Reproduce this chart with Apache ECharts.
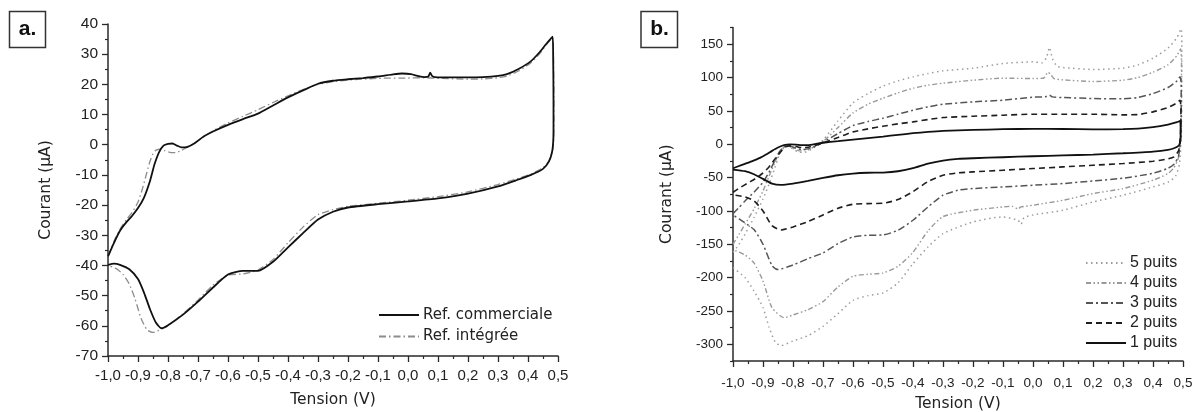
<!DOCTYPE html>
<html>
<head>
<meta charset="utf-8">
<script src="https://cdn.jsdelivr.net/npm/echarts@6/dist/echarts.min.js"></script>
<style>
html,body{margin:0;padding:0;background:#fff;}
#c{width:1195px;height:412px;}
</style>
</head>
<body>
<div id="c"></div>
<script>
// ---------- Panel a : [tension V, courant µA] ----------
const aCommercialFwd = [[-1.0,-37],[-0.98,-32.5],[-0.96,-28.5],[-0.94,-25.8],[-0.92,-23.6],[-0.9,-21],[-0.88,-17.5],[-0.86,-12],[-0.845,-6.5],[-0.83,-2.5],[-0.815,-0.3],[-0.8,0.3],[-0.785,0.4],[-0.77,-0.3],[-0.755,-0.9],[-0.735,-0.7],[-0.71,0.6],[-0.68,2.8],[-0.65,4.4],[-0.6,6.6],[-0.55,8.5],[-0.5,10.3],[-0.45,13],[-0.4,15.7],[-0.35,18],[-0.3,20.2],[-0.25,21.2],[-0.2,21.7],[-0.15,22.1],[-0.1,22.6],[-0.05,23.3],[-0.02,23.6],[0.01,23.4],[0.035,22.7],[0.055,22.4],[0.068,22.6],[0.074,23.9],[0.08,22.8],[0.09,22.4],[0.15,22.3],[0.2,22.3],[0.25,22.4],[0.3,22.8],[0.33,23.4],[0.37,25.2],[0.41,27.7],[0.44,30.8],[0.46,33.3],[0.482,35.8]];
const aCommercialRev = [[0.484,28],[0.485,15],[0.485,5],[0.484,1],[0.48,-2.5],[0.47,-5.5],[0.45,-8],[0.41,-10],[0.36,-11.8],[0.3,-13.8],[0.2,-16.2],[0.1,-17.8],[0.0,-18.8],[-0.1,-19.7],[-0.2,-20.8],[-0.25,-22.2],[-0.3,-24.8],[-0.35,-29.3],[-0.4,-34],[-0.45,-38.8],[-0.5,-41.8],[-0.55,-41.8],[-0.6,-43],[-0.65,-47.3],[-0.7,-52],[-0.75,-56.3],[-0.8,-59.8],[-0.822,-60.8],[-0.84,-59],[-0.86,-54.5],[-0.88,-49],[-0.9,-44.5],[-0.93,-41.2],[-0.96,-39.8],[-0.98,-39.4],[-1.0,-39.8]];
const aIntegreeFwd = [[-1.0,-37],[-0.98,-32],[-0.96,-28],[-0.94,-25],[-0.92,-22.5],[-0.9,-19],[-0.885,-14.5],[-0.87,-9],[-0.86,-5.5],[-0.85,-3],[-0.84,-1.8],[-0.825,-1.5],[-0.81,-2],[-0.79,-2.6],[-0.775,-2.6],[-0.76,-2.1],[-0.74,-1.1],[-0.72,0],[-0.7,1.4],[-0.65,4.6],[-0.6,7.2],[-0.55,9.4],[-0.5,11.6],[-0.45,14],[-0.4,16.2],[-0.35,18.3],[-0.3,20],[-0.25,20.9],[-0.2,21.4],[-0.1,22],[0.0,22.1],[0.05,22.2],[0.1,22],[0.2,21.7],[0.25,21.8],[0.3,22.2],[0.33,22.8],[0.37,24.5],[0.41,27.2],[0.44,30.3],[0.46,33],[0.482,35.4]];
const aIntegreeRev = [[0.485,28],[0.486,15],[0.486,5],[0.485,1],[0.481,-2.5],[0.47,-5.3],[0.45,-7.6],[0.41,-9.7],[0.36,-11.4],[0.3,-13.2],[0.2,-15.6],[0.1,-17.2],[0.0,-18.4],[-0.1,-19.4],[-0.2,-20.4],[-0.25,-21.5],[-0.3,-23.2],[-0.35,-27.3],[-0.4,-32.5],[-0.45,-38],[-0.5,-41.5],[-0.55,-42.8],[-0.6,-43.2],[-0.65,-46.5],[-0.7,-51.5],[-0.75,-56],[-0.8,-60],[-0.82,-61],[-0.85,-62.2],[-0.87,-61.3],[-0.89,-57.5],[-0.91,-51],[-0.93,-46],[-0.95,-43],[-0.97,-41.2],[-1.0,-40]];

// ---------- Panel b : [tension V, courant µA] ----------
const b1Fwd = [[-1.0,-36],[-0.97,-31],[-0.94,-26],[-0.91,-20.5],[-0.89,-15.5],[-0.87,-10],[-0.85,-5],[-0.83,-1.5],[-0.81,-0.3],[-0.79,-0.5],[-0.77,-1.3],[-0.75,-1.3],[-0.72,0.8],[-0.7,2.2],[-0.65,4.5],[-0.6,7],[-0.55,9.3],[-0.5,11.5],[-0.45,14],[-0.4,16.5],[-0.35,18.5],[-0.3,20],[-0.2,21.5],[-0.1,22.5],[0.0,23],[0.1,22.8],[0.2,22.3],[0.3,22.5],[0.35,23.3],[0.4,25.5],[0.45,29.5],[0.48,33],[0.49,35]];
const b1Rev = [[0.492,25],[0.492,10],[0.49,2],[0.485,-2.5],[0.47,-6],[0.45,-8.5],[0.4,-11],[0.3,-13.5],[0.2,-15.5],[0.1,-16.8],[0.0,-18],[-0.1,-19.5],[-0.2,-21],[-0.25,-22],[-0.3,-24.5],[-0.35,-29],[-0.4,-36],[-0.45,-40.5],[-0.5,-42.5],[-0.55,-42.8],[-0.6,-44],[-0.65,-46.5],[-0.7,-50.5],[-0.75,-55],[-0.8,-59],[-0.84,-61],[-0.87,-59],[-0.9,-52],[-0.93,-45],[-0.96,-40.5],[-1.0,-38]];
const b2Fwd = [[-1.0,-72],[-0.98,-66],[-0.95,-58],[-0.92,-50],[-0.9,-43],[-0.88,-34],[-0.86,-22],[-0.84,-11],[-0.825,-4],[-0.81,-2.5],[-0.79,-3.5],[-0.77,-5],[-0.75,-4.5],[-0.72,-1],[-0.7,2],[-0.65,10],[-0.6,18.5],[-0.55,23],[-0.5,27],[-0.45,30.5],[-0.4,33.5],[-0.35,37],[-0.3,40],[-0.2,42],[-0.1,43.5],[0.0,45],[0.1,45],[0.2,45],[0.3,44],[0.35,44.5],[0.4,48.5],[0.45,55],[0.48,62],[0.49,66]];
const b2Rev = [[0.493,55],[0.493,30],[0.49,5],[0.485,-10],[0.47,-19],[0.45,-22],[0.4,-25.5],[0.3,-29],[0.2,-31.5],[0.1,-34],[0.0,-36.5],[-0.1,-39],[-0.2,-41.5],[-0.25,-43],[-0.3,-46.5],[-0.35,-56],[-0.4,-71],[-0.45,-83],[-0.5,-88.5],[-0.55,-89],[-0.6,-90],[-0.65,-96],[-0.7,-106],[-0.75,-116],[-0.8,-124],[-0.84,-128.5],[-0.87,-122],[-0.9,-100],[-0.93,-85],[-0.96,-79],[-1.0,-76]];
const b3Fwd = [[-1.0,-104],[-0.98,-95],[-0.96,-85],[-0.93,-72],[-0.9,-57],[-0.88,-42],[-0.86,-24],[-0.845,-11],[-0.83,-4],[-0.81,-3],[-0.79,-6],[-0.77,-8],[-0.75,-7],[-0.72,-2],[-0.7,3],[-0.65,16],[-0.6,28],[-0.55,34],[-0.5,39],[-0.45,45],[-0.4,51],[-0.35,56],[-0.3,60],[-0.2,63.5],[-0.1,66],[0.0,70.5],[0.04,71],[0.055,73.5],[0.065,71],[0.1,70],[0.2,68.5],[0.3,68],[0.35,70],[0.4,76],[0.45,85],[0.48,95],[0.49,101]];
const b3Rev = [[0.494,90],[0.494,50],[0.492,10],[0.485,-18],[0.47,-30],[0.45,-36],[0.4,-43.5],[0.3,-51],[0.2,-55],[0.1,-59],[0.0,-61.5],[-0.1,-64],[-0.2,-66.5],[-0.25,-69],[-0.3,-76.5],[-0.35,-94],[-0.4,-114],[-0.45,-129],[-0.5,-136],[-0.55,-136.5],[-0.6,-139],[-0.65,-149],[-0.7,-163],[-0.75,-171.5],[-0.8,-181],[-0.85,-188],[-0.87,-182],[-0.9,-150],[-0.93,-128],[-0.96,-118],[-0.98,-112],[-1.0,-106]];
const b4Fwd = [[-1.0,-150],[-0.98,-135],[-0.96,-120],[-0.93,-97],[-0.9,-70],[-0.88,-48],[-0.86,-27],[-0.845,-12],[-0.83,-4],[-0.815,-3],[-0.8,-6],[-0.78,-10],[-0.76,-10],[-0.73,-4],[-0.7,4],[-0.65,25],[-0.6,47],[-0.55,60],[-0.5,69],[-0.45,77],[-0.4,84],[-0.35,88.5],[-0.3,91.5],[-0.2,96],[-0.1,99],[0.0,98.5],[0.035,99],[0.05,108],[0.06,104],[0.07,98.5],[0.1,96.5],[0.2,94],[0.3,96],[0.35,100],[0.4,108],[0.45,119],[0.48,133],[0.492,143]];
const b4Rev = [[0.495,120],[0.495,60],[0.492,10],[0.485,-20],[0.47,-35],[0.45,-44],[0.4,-54],[0.3,-66.5],[0.2,-74],[0.1,-84],[0.0,-91.5],[-0.04,-94],[-0.05,-97],[-0.07,-93],[-0.1,-94],[-0.2,-99],[-0.3,-108.5],[-0.35,-130],[-0.4,-162],[-0.45,-183],[-0.5,-193],[-0.55,-195],[-0.6,-198],[-0.65,-214],[-0.7,-236],[-0.75,-248],[-0.8,-256],[-0.83,-260],[-0.87,-245],[-0.9,-205],[-0.93,-178],[-0.96,-166],[-1.0,-158]];
const b5Fwd = [[-1.0,-162],[-0.98,-150],[-0.96,-135],[-0.93,-110],[-0.9,-82],[-0.88,-60],[-0.86,-35],[-0.845,-15],[-0.83,-5],[-0.815,-3],[-0.8,-7],[-0.78,-12],[-0.76,-12],[-0.73,-5],[-0.7,6],[-0.65,35],[-0.6,62],[-0.55,76],[-0.5,87],[-0.45,95],[-0.4,101],[-0.35,106],[-0.3,110],[-0.2,114],[-0.1,121],[0.0,123.5],[0.03,122],[0.045,130],[0.055,145],[0.065,128],[0.08,117],[0.1,115],[0.2,112],[0.3,114],[0.35,119],[0.4,129],[0.45,144],[0.48,160],[0.494,173]];
const b5Rev = [[0.496,150],[0.496,80],[0.494,10],[0.488,-30],[0.475,-48],[0.45,-57],[0.4,-64],[0.3,-76.5],[0.2,-86.5],[0.1,-99],[0.0,-106],[-0.03,-110],[-0.04,-120],[-0.05,-114],[-0.1,-109],[-0.2,-116.5],[-0.3,-134],[-0.35,-154],[-0.4,-179],[-0.45,-208],[-0.5,-223],[-0.55,-227],[-0.6,-234],[-0.65,-254],[-0.7,-273],[-0.75,-287],[-0.8,-295],[-0.84,-302],[-0.86,-296],[-0.88,-274],[-0.9,-245],[-0.93,-220],[-0.96,-200],[-1.0,-185]];

// ---------- names & ticks ----------
const legendA = ['Ref. commerciale', 'Ref. intégrée'];
const legendB = ['5 puits', '4 puits', '3 puits', '2 puits', '1 puits'];
const yMajorB = [-300, -250, -200, -150, -100, -50, 0, 50, 100, 150];
const yMinorB = [-325, -275, -225, -175, -125, -75, -25, 25, 75, 125, 175];
const xTitle = 'Tension (V)';
const yTitle = 'Courant (µA)';

const loop = (f, r) => f.concat(r);
const comma = v => { let r = Math.round(v * 10) / 10; if (Math.abs(r) < 1e-9) r = 0; return r.toFixed(1).replace('.', ','); };

const axisCol = '#2a2a2a';
const tickFont = { fontFamily: '"Liberation Sans", Arial, sans-serif', color: '#222' };
const titleFont = { fontFamily: '"DejaVu Sans", Verdana, sans-serif', fontSize: 15.5, color: '#222' };

function xAxisCfg(grid, fs, margin, gap) {
  return {
    type: 'value', gridIndex: grid, min: -1, max: 0.5, interval: 0.1,
    name: xTitle, nameLocation: 'middle', nameGap: gap, nameTextStyle: titleFont,
    axisLine: { show: true, onZero: false, lineStyle: { color: axisCol, width: 1.5 } },
    axisTick: { show: true, inside: false, length: 6, lineStyle: { color: axisCol, width: 1.3 } },
    minorTick: { show: true, splitNumber: 2, length: 3, lineStyle: { color: axisCol, width: 1.2 } },
    axisLabel: Object.assign({ fontSize: fs, margin: margin, formatter: comma, hideOverlap: false, showMinLabel: true, showMaxLabel: true }, tickFont),
    splitLine: { show: false }
  };
}

const option = {
  animation: false,
  backgroundColor: '#fff',
  grid: [
    { left: 108, top: 24, width: 450, height: 332, containLabel: false, outerBoundsMode: 'none' },
    { left: 733, top: 27.5, width: 450, height: 333.5, containLabel: false, outerBoundsMode: 'none' }
  ],
  xAxis: [ xAxisCfg(0, 15, 12, 36), xAxisCfg(1, 13.5, 15, 35) ],
  yAxis: [
    {
      type: 'value', gridIndex: 0, min: -70, max: 40, interval: 10,
      name: yTitle, nameLocation: 'middle', nameGap: 54, nameRotate: 90, nameTextStyle: titleFont,
      axisLine: { show: true, onZero: false, lineStyle: { color: axisCol, width: 1.5 } },
      axisTick: { show: true, inside: false, length: 6, lineStyle: { color: axisCol, width: 1.3 } },
      minorTick: { show: true, splitNumber: 2, length: 3, lineStyle: { color: axisCol, width: 1.2 } },
      axisLabel: Object.assign({ fontSize: 15.5, margin: 10, showMinLabel: true, showMaxLabel: true }, tickFont),
      splitLine: { show: false }
    },
    {
      type: 'value', gridIndex: 1, min: -325, max: 175, interval: 25, position: 'left',
      name: yTitle, nameLocation: 'middle', nameGap: 58, nameRotate: 90, nameTextStyle: titleFont,
      axisLine: { show: true, onZero: false, lineStyle: { color: axisCol, width: 1.5 } },
      axisTick: { show: true, inside: false, length: 6, customValues: yMajorB, lineStyle: { color: axisCol, width: 1.3 } },
      axisLabel: Object.assign({ fontSize: 13.5, margin: 10, customValues: yMajorB }, tickFont),
      splitLine: { show: false }
    },
    {
      type: 'value', gridIndex: 1, min: -325, max: 175, interval: 25, position: 'left', offset: 0,
      axisLine: { show: false, onZero: false },
      axisTick: { show: true, inside: false, length: 3, customValues: yMinorB, lineStyle: { color: axisCol, width: 1.2 } },
      axisLabel: { show: false },
      splitLine: { show: false }
    }
  ],
  legend: [
    {
      data: legendA, orient: 'vertical', left: 378, top: 306, padding: 0, itemWidth: 40, itemHeight: 18, itemGap: 3.5,
      selectedMode: false, itemStyle: { opacity: 0 },
      textStyle: { fontFamily: '"DejaVu Sans", Verdana, sans-serif', fontSize: 15, color: '#222', lineHeight: 18, padding: [0,0,0,-1] }
    },
    {
      data: legendB, orient: 'vertical', left: 1085, top: 255, padding: 0, itemWidth: 40, itemHeight: 16, itemGap: 4,
      selectedMode: false, itemStyle: { opacity: 0 },
      textStyle: { fontFamily: '"Liberation Sans", Arial, sans-serif', fontSize: 16, color: '#222', lineHeight: 16, padding: [0,0,0,-1] }
    }
  ],
  graphic: [
    { type: 'rect', shape: { x: 9.5, y: 11.5, width: 36, height: 36 }, style: { fill: '#fff', stroke: '#333', lineWidth: 1.5 } },
    { type: 'text', x: 27.5, y: 29, style: { text: 'a.', fontFamily: '"Liberation Sans", Arial, sans-serif', fontWeight: 'bold', fontSize: 21, fill: '#111', align: 'center', verticalAlign: 'middle' } },
    { type: 'rect', shape: { x: 641, y: 11.5, width: 36.5, height: 36 }, style: { fill: '#fff', stroke: '#333', lineWidth: 1.5 } },
    { type: 'text', x: 659.5, y: 29, style: { text: 'b.', fontFamily: '"Liberation Sans", Arial, sans-serif', fontWeight: 'bold', fontSize: 21, fill: '#111', align: 'center', verticalAlign: 'middle' } }
  ],
  series: [
    { name: legendA[1], type: 'line', xAxisIndex: 0, yAxisIndex: 0, data: loop(aIntegreeFwd, aIntegreeRev),
      showSymbol: false, symbol: 'none', smooth: 0.2, lineStyle: { color: '#8c8c8c', width: 1.3, type: [7, 3, 1.5, 3] }, itemStyle: { color: '#8c8c8c' } },
    { name: legendA[0], type: 'line', xAxisIndex: 0, yAxisIndex: 0, data: loop(aCommercialFwd, aCommercialRev),
      showSymbol: false, symbol: 'none', smooth: 0.2, lineStyle: { color: '#111', width: 1.8, type: 'solid' }, itemStyle: { color: '#111' } },

    { name: legendB[0], type: 'line', xAxisIndex: 1, yAxisIndex: 1, data: loop(b5Fwd, b5Rev),
      showSymbol: false, symbol: 'none', smooth: 0.2, lineStyle: { color: '#9c9c9c', width: 1.5, type: [1.5, 3.5] }, itemStyle: { color: '#9c9c9c' } },
    { name: legendB[1], type: 'line', xAxisIndex: 1, yAxisIndex: 1, data: loop(b4Fwd, b4Rev),
      showSymbol: false, symbol: 'none', smooth: 0.2, lineStyle: { color: '#999', width: 1.4, type: [5, 2.5, 1.5, 2.5, 1.5, 2.5] }, itemStyle: { color: '#999' } },
    { name: legendB[2], type: 'line', xAxisIndex: 1, yAxisIndex: 1, data: loop(b3Fwd, b3Rev),
      showSymbol: false, symbol: 'none', smooth: 0.2, lineStyle: { color: '#555', width: 1.5, type: [7, 3, 2, 3] }, itemStyle: { color: '#555' } },
    { name: legendB[3], type: 'line', xAxisIndex: 1, yAxisIndex: 1, data: loop(b2Fwd, b2Rev),
      showSymbol: false, symbol: 'none', smooth: 0.2, lineStyle: { color: '#1e1e1e', width: 1.6, type: [6, 4] }, itemStyle: { color: '#1e1e1e' } },
    { name: legendB[4], type: 'line', xAxisIndex: 1, yAxisIndex: 1, data: loop(b1Fwd, b1Rev),
      showSymbol: false, symbol: 'none', smooth: 0.2, lineStyle: { color: '#111', width: 1.8, type: 'solid' }, itemStyle: { color: '#111' } }
  ]
};

const chart = echarts.init(document.getElementById('c'), null, { renderer: 'canvas', width: 1195, height: 412 });
chart.setOption(option);
</script>
</body>
</html>
